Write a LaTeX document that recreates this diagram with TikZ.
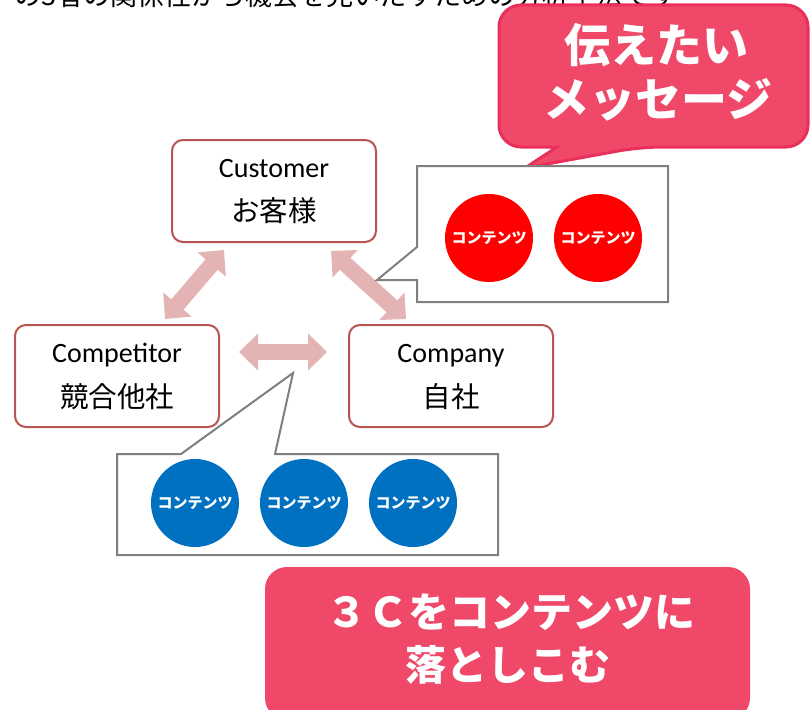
\documentclass[tikz,border=0pt]{standalone}
\usepackage{fontspec}
\newfontfamily\jp{Noto Sans CJK JP}
\newfontfamily\lat{Carlito}
\usetikzlibrary{arrows.meta,calc}
\definecolor{boxred}{HTML}{B85450}
\definecolor{arrowpink}{HTML}{E3B4B3}
\definecolor{callgray}{HTML}{7F7F7F}
\definecolor{pinkfill}{HTML}{EF4868}
\definecolor{pinkedge}{HTML}{E8305A}
\definecolor{cred}{HTML}{FF0000}
\definecolor{cblue}{HTML}{0070C0}
\tikzset{
  cbox/.style={draw=boxred, line width=2pt, rounded corners=11pt, fill=white,
    minimum width=204pt, minimum height=102pt, inner sep=0pt},
  latlab/.style={anchor=base, font=\lat\fontsize{28pt}{34pt}\selectfont, inner sep=0pt},
  jplab/.style={anchor=base, font=\jp\fontsize{28.5pt}{32pt}\selectfont, inner sep=0pt},
  bigarrow/.style={draw=arrowpink, line width=16pt,
    {Triangle[length=19pt,width=36pt]}-{Triangle[length=19pt,width=36pt]}},
  callout/.style={draw=callgray, line width=2pt, fill=white, line join=miter},
  content/.style={circle, minimum size=88pt, inner sep=0pt, text=white,
    font=\jp\bfseries\fontsize{15pt}{17pt}\selectfont},
  msg/.style={text=white, font=\jp\bfseries\fontsize{#1}{#1}\selectfont, inner sep=0pt}
}
\begin{document}
\begin{tikzpicture}[x=1pt,y=-1pt]
\useasboundingbox (0,0) rectangle (810,709);
\clip (0,0) rectangle (810,709);

% top cut-off text
\node[anchor=base west, inner sep=0pt, font=\jp\fontsize{27pt}{32pt}\selectfont] (toptext) at (14,6) {の3者の関係性から機会を見いだすための分析手法です};

% top-right callout
\path[fill=pinkfill, draw=pinkedge, line width=3pt, rounded corners=22pt]
  (499,5) -- (808,5) -- (808,147) -- (640,147) [sharp corners] -- (525,168) -- (557,147) [rounded corners=22pt] -- (499,147) -- cycle;
\node[msg=46pt] (msg1) at (656,45) {伝えたい};
\node[msg=46pt] (msg2) at (658,100) {メッセージ};

% boxes
\node[cbox] (cust) at (274,191) {};
\node[latlab] (custA) at (274,177) {Customer};
\node[jplab] (custB) at (274,221) {お客様};

\node[cbox] (compt) at (117,376) {};
\node[latlab] (comptA) at (117,362) {Competitor};
\node[jplab] (comptB) at (117,407) {競合他社};

\node[cbox] (compa) at (451,376) {};
\node[latlab] (compaA) at (451,362) {Company};
\node[jplab] (compaB) at (451,407) {自社};

% arrows
\coordinate (l1) at (224,250);
\coordinate (l2) at (165,319);
\coordinate (r1) at (331,251);
\coordinate (r2) at (406,319);
\coordinate (h1) at (239,352);
\coordinate (h2) at (327,352);
\draw[bigarrow] (l1) -- (l2);
\draw[bigarrow] (r1) -- (r2);
\draw[bigarrow] (h1) -- (h2);

% red callout
\path[callout] (417,166) -- (668,166) -- (668,302) -- (417,302) -- (417,280) -- (377,280) -- (417,247) -- cycle;
\node[content, fill=cred] (c1) at (489,238) {コンテンツ};
\node[content, fill=cred] (c2) at (598,238) {コンテンツ};

% blue callout
\path[callout] (117,454) -- (181,454) -- (293,373) -- (275,454) -- (498,454) -- (498,555) -- (117,555) -- cycle;
\node[content, fill=cblue] (b1) at (195,503) {コンテンツ};
\node[content, fill=cblue] (b2) at (304,503) {コンテンツ};
\node[content, fill=cblue] (b3) at (413,503) {コンテンツ};

% bottom message
\path[fill=pinkfill, rounded corners=22pt] (265,567) rectangle (750,720);
\node[msg=41pt] (bm1) at (511,612) {３Ｃをコンテンツに};
\node[msg=41pt] (bm2) at (508,665) {落としこむ};
\end{tikzpicture}
\end{document}
